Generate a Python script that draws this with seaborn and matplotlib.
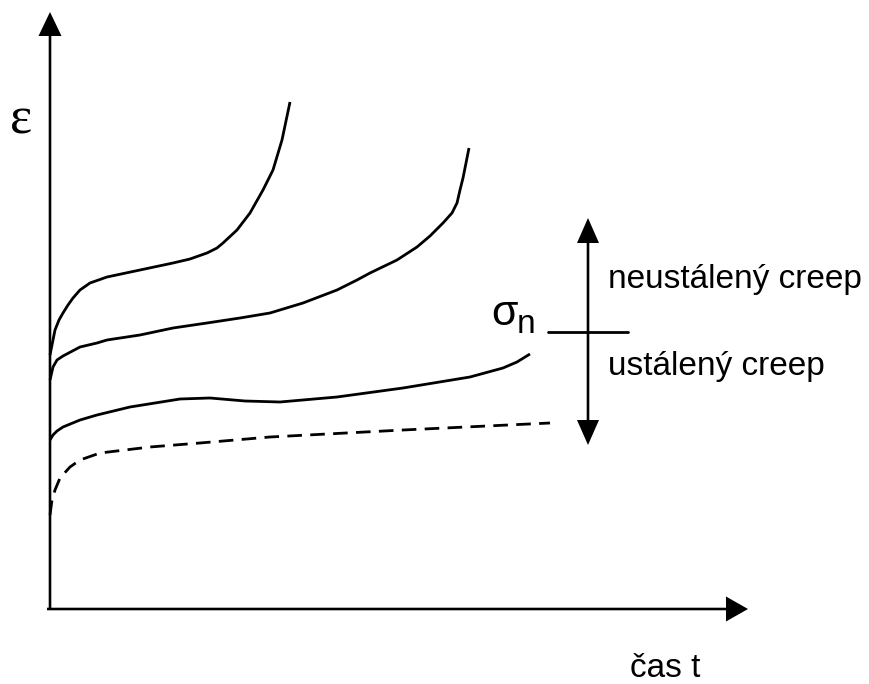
import matplotlib
matplotlib.use("Agg")
import matplotlib.pyplot as plt
import numpy as np
import pandas as pd
import seaborn as sns

sns.set_theme(style="white")
plt.rcParams["font.family"] = ["Liberation Sans", "DejaVu Sans"]
plt.rcParams["text.color"] = "black"
plt.rcParams["lines.scale_dashes"] = False

# creep curves: time t vs. strain epsilon (schematic units)
t_c1 = [0, 2, 5, 9, 13, 18, 23, 30, 40, 57, 90, 123, 140, 157, 167, 173, 187, 200, 213, 223, 232, 240]
e_c1 = [253, 263, 278, 288, 295, 303, 310, 318, 325, 331, 338, 345, 349, 355, 360, 365, 378, 395, 418, 438, 468, 506]

t_c2 = [0, 3, 7, 13, 30, 47, 57, 90, 123, 157, 190, 220, 253, 287, 307, 320, 347, 367, 380, 393, 402, 407, 410, 413, 416, 419]
e_c2 = [228, 241, 248, 252, 261, 265, 268, 273, 280, 285, 290, 295, 305, 318, 328, 335, 348, 361, 372, 385, 395, 405, 418, 430, 445, 460]

t_c3 = [0, 3, 7, 13, 30, 47, 80, 130, 160, 195, 230, 287, 353, 420, 453, 467, 480]
e_c3 = [168, 173, 177, 181, 188, 193, 201, 209, 210, 207, 206, 211, 220, 231, 240, 246, 254]

t_lim = [0, 2, 5, 10, 20, 30, 50, 100, 150, 220, 353, 500]
e_lim = [93, 108, 118, 130, 141, 148, 155, 161, 165, 171, 178, 185]

sigma_n_level = 276

fig = plt.figure(figsize=(8.70, 6.84), dpi=100)
ax = fig.add_axes([0, 0, 1, 1])
ax.set_xlim(-50, 820)
ax.set_ylim(-76, 608)
ax.set_axis_off()

lw = 2.0
for t, e in [(t_c1, e_c1), (t_c2, e_c2), (t_c3, e_c3)]:
    df = pd.DataFrame({"t": t, "eps": e})
    sns.lineplot(data=df, x="t", y="eps", sort=False, color="black", lw=lw, ax=ax,
                 solid_capstyle="butt", solid_joinstyle="round")
df_lim = pd.DataFrame({"t": t_lim, "eps": e_lim})
sns.lineplot(data=df_lim, x="t", y="eps", sort=False, color="black", lw=lw, ax=ax,
             linestyle=(0, (10.5, 6.0)), dash_capstyle="butt")
ax.set_xlabel("")
ax.set_ylabel("")

# coordinate axes with arrowheads
ax.arrow(0, -1, 0, 597, width=2.6, head_width=23, head_length=24,
         length_includes_head=True, fc="black", ec="none")
ax.arrow(-3, -1, 701, 0, width=2.6, head_width=25, head_length=22,
         length_includes_head=True, fc="black", ec="none")

# double arrow marking the stress levels
xa = 538
ax.arrow(xa, sigma_n_level, 0, 390 - sigma_n_level, width=2.6, head_width=22,
         head_length=25, length_includes_head=True, fc="black", ec="none")
ax.arrow(xa, sigma_n_level, 0, 163 - sigma_n_level, width=2.6, head_width=22,
         head_length=25, length_includes_head=True, fc="black", ec="none")
ax.plot([498, 578], [sigma_n_level, sigma_n_level], color="black", lw=2.0)

# labels
ax.text(-29, 487, "ε", fontsize=38, family=["Liberation Serif", "DejaVu Serif"],
        ha="center", va="center", color="black")
ax.text(580, -69, "čas t", fontsize=24, ha="left", va="baseline", color="black")
ax.text(558, 320, "neustálený creep", fontsize=24, ha="left", va="baseline", color="black")
ax.text(558, 233, "ustálený creep", fontsize=24, ha="left", va="baseline", color="black")
ax.text(441, 283, "σ", fontsize=31, ha="left", va="baseline", color="black")
ax.text(467, 275, "n", fontsize=24, ha="left", va="baseline", color="black")

fig.savefig("out.png", dpi=100, facecolor="white")
